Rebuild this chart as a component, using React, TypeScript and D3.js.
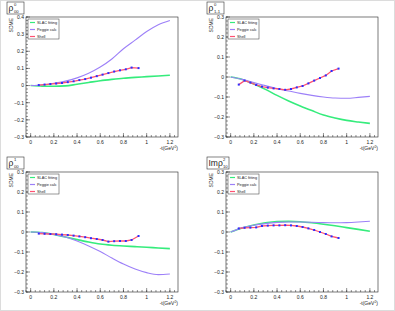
import React from "react";
import * as d3 from "d3";

// model curves sampled at -t = 0 ... 1.2
const tModel = [0, 0.1, 0.2, 0.3, 0.4, 0.5, 0.6, 0.7, 0.8, 0.9, 1.0, 1.1, 1.2];
// "Shell" points
const tShell = [0.07, 0.12, 0.17, 0.22, 0.27, 0.32, 0.37, 0.42, 0.47, 0.52, 0.57, 0.62, 0.67, 0.72, 0.77, 0.82, 0.87, 0.93];

const slac00 = [0, -0.003, -0.004, -0.002, 0.008, 0.018, 0.028, 0.036, 0.043, 0.048, 0.052, 0.056, 0.06];
const peggie00 = [0, 0.005, 0.014, 0.026, 0.045, 0.072, 0.108, 0.155, 0.215, 0.265, 0.315, 0.355, 0.38];
const shell00 = [0.003, 0.006, 0.009, 0.012, 0.015, 0.02, 0.025, 0.032, 0.038, 0.046, 0.055, 0.064, 0.073, 0.082, 0.089, 0.095, 0.105, 0.102];

const slac1m1 = [0, -0.012, -0.035, -0.062, -0.092, -0.12, -0.145, -0.168, -0.19, -0.205, -0.217, -0.225, -0.232];
const peggie1m1 = [0, -0.012, -0.028, -0.043, -0.058, -0.07, -0.082, -0.092, -0.1, -0.105, -0.106, -0.102, -0.097];
const shell1m1 = [-0.038, -0.018, -0.028, -0.04, -0.048, -0.053, -0.057, -0.06, -0.064, -0.06, -0.052, -0.045, -0.032, -0.018, -0.005, 0.008, 0.03, 0.042];

const slac100 = [0, -0.003, -0.012, -0.025, -0.038, -0.05, -0.06, -0.066, -0.07, -0.073, -0.076, -0.08, -0.083];
const peggie100 = [0, -0.003, -0.012, -0.025, -0.045, -0.07, -0.098, -0.13, -0.16, -0.185, -0.203, -0.213, -0.21];
const shell100 = [-0.008, -0.009, -0.01, -0.011, -0.013, -0.015, -0.018, -0.022, -0.026, -0.031, -0.035, -0.04, -0.048, -0.046, -0.045, -0.045, -0.04, -0.02];

const slac210 = [0, 0.02, 0.035, 0.046, 0.052, 0.053, 0.051, 0.046, 0.039, 0.031, 0.022, 0.013, 0.004];
const peggie210 = [0, 0.022, 0.034, 0.042, 0.048, 0.05, 0.05, 0.049, 0.047, 0.046, 0.047, 0.05, 0.054];
const shell210 = [0.018, 0.021, 0.022, 0.023, 0.03, 0.032, 0.033, 0.033, 0.034, 0.033, 0.03, 0.025, 0.018, 0.01, 0.0, -0.01, -0.022, -0.03];

const legendLabels = ["SLAC fitting", "Peggie calc", "Shell"];
const xTicks = [0, 0.2, 0.4, 0.6, 0.8, 1, 1.2];

const GREEN = "#35ec7c";
const PURPLE = "#9d80f8";
const RED = "#ff5272";
const BLUE = "#2d2dff";
const FONT = "Liberation Sans, Arial, sans-serif";

type Title = { main: string; sup: string; sub: string };

const panels = [
  { ox: 0, oy: 0, ymax: 0.4, title: { main: "ρ", sup: "0", sub: "00" }, slac: slac00, peggie: peggie00, shell: shell00 },
  { ox: 200, oy: 0, ymax: 0.3, title: { main: "ρ", sup: "0", sub: "1-1" }, slac: slac1m1, peggie: peggie1m1, shell: shell1m1 },
  { ox: 0, oy: 155, ymax: 0.3, title: { main: "ρ", sup: "1", sub: "00" }, slac: slac100, peggie: peggie100, shell: shell100 },
  { ox: 200, oy: 155, ymax: 0.3, title: { main: "Imρ", sup: "2", sub: "10" }, slac: slac210, peggie: peggie210, shell: shell210 },
];

const frame = { left: 26, right: 178, top: 17, bottom: 137 };

const Panel = ({ p }: { p: typeof panels[0] }) => {
  const x = d3.scaleLinear().domain([-0.04, 1.27]).range([frame.left, frame.right]);
  const y = d3.scaleLinear().domain([-0.3, p.ymax]).range([frame.bottom, frame.top]);
  const smooth = d3.line<[number, number]>().x(d => x(d[0])).y(d => y(d[1])).curve(d3.curveMonotoneX);
  const straight = d3.line<[number, number]>().x(d => x(d[0])).y(d => y(d[1]));
  const slacPts = tModel.map((t, i) => [t, p.slac[i]] as [number, number]);
  const pegPts = tModel.map((t, i) => [t, p.peggie[i]] as [number, number]);
  const shellPts = tShell.map((t, i) => [t, p.shell[i]] as [number, number]);

  const yMajor = d3.range(-0.3, p.ymax + 0.001, 0.1);
  const yMinor = d3.range(-0.3, p.ymax + 0.001, 0.02);
  const xMinor = d3.range(0, 1.27, 0.04).concat([-0.04]);
  const t: Title = p.title;
  const wide = t.main.length > 1;
  const mainW = wide ? 14.5 : 5.5;
  const titleW = wide ? 22 : 17;

  return (
    <g transform={`translate(${p.ox},${p.oy})`}>
      <rect x={frame.left} y={frame.top} width={frame.right - frame.left} height={frame.bottom - frame.top} fill="white" stroke="#222" strokeWidth={0.6} />
      {/* y axis ticks */}
      {yMinor.map((v, i) => (
        <line key={"ym" + i} x1={frame.left} x2={frame.left + 2} y1={y(v)} y2={y(v)} stroke="#222" strokeWidth={0.5} />
      ))}
      {yMajor.map((v, i) => (
        <g key={"yM" + i}>
          <line x1={frame.left} x2={frame.left + 4} y1={y(v)} y2={y(v)} stroke="#222" strokeWidth={0.5} />
          <text x={frame.left - 2} y={y(v) + 1.8} fontSize={5} textAnchor="end" fontFamily={FONT} fill="#222">
            {Math.abs(v) < 1e-9 ? "0" : d3.format(".1f")(v)}
          </text>
        </g>
      ))}
      {/* x axis ticks */}
      {xMinor.map((v, i) => (
        <line key={"xm" + i} x1={x(v)} x2={x(v)} y1={frame.bottom} y2={frame.bottom - 2} stroke="#222" strokeWidth={0.5} />
      ))}
      {xTicks.map((v, i) => (
        <g key={"xM" + i}>
          <line x1={x(v)} x2={x(v)} y1={frame.bottom} y2={frame.bottom - 4} stroke="#222" strokeWidth={0.5} />
          <text x={x(v)} y={frame.bottom + 7} fontSize={5} textAnchor="middle" fontFamily={FONT} fill="#222">{String(v)}</text>
        </g>
      ))}
      <text x={frame.right} y={frame.bottom + 13} fontSize={5} textAnchor="end" fontFamily={FONT} fill="#222">
        -t(GeV<tspan dy={-2} fontSize={3.5}>2</tspan><tspan dy={2}>)</tspan>
      </text>
      <text transform={`translate(13,${frame.top + 1}) rotate(-90)`} fontSize={5} textAnchor="end" fontFamily={FONT} fill="#222">SDME</text>

      {/* curves */}
      <path d={smooth(slacPts) || ""} fill="none" stroke={GREEN} strokeWidth={1.6} />
      <path d={smooth(pegPts) || ""} fill="none" stroke={PURPLE} strokeWidth={1.1} />
      <path d={straight(shellPts) || ""} fill="none" stroke={RED} strokeWidth={1.3} />
      {shellPts.map((d, i) => (
        <rect key={"s" + i} x={x(d[0]) - 1} y={y(d[1]) - 1} width={2} height={2} fill={BLUE} />
      ))}

      {/* legend */}
      <rect x={28} y={19} width={31} height={20} fill="white" stroke="#333" strokeWidth={0.5} />
      {legendLabels.map((l, i) => (
        <g key={"l" + i}>
          <line x1={30} x2={35} y1={22.5 + i * 7} y2={22.5 + i * 7} stroke={[GREEN, PURPLE, RED][i]} strokeWidth={1.2} />
          <text x={37} y={24 + i * 7} fontSize={3.8} fontFamily={FONT} fill="#222">{l}</text>
        </g>
      ))}

      {/* title box */}
      <rect x={7} y={2} width={titleW} height={12} fill="white" stroke="#333" strokeWidth={0.6} />
      <text x={8.5} y={11} fontSize={8.5} fontFamily={FONT} fill="#222">{t.main}</text>
      <text x={8.5 + mainW} y={6.3} fontSize={4.2} fontFamily={FONT} fill="#222">{t.sup}</text>
      <text x={8.5 + mainW} y={12.8} fontSize={4.2} fontFamily={FONT} fill="#222">{t.sub}</text>
    </g>
  );
};

const App = () => {
  return (
    <div style={{ position: "absolute", left: 0, top: 0 }}>
      <svg width={395} height={311} style={{ display: "block" }}>
        <rect x={0} y={0} width={395} height={311} fill="white" />
        <rect x={0.5} y={0.5} width={394} height={310} fill="none" stroke="#dcdcdc" />
        {panels.map((p, i) => <Panel key={i} p={p} />)}
      </svg>
    </div>
  );
};

export default App;
